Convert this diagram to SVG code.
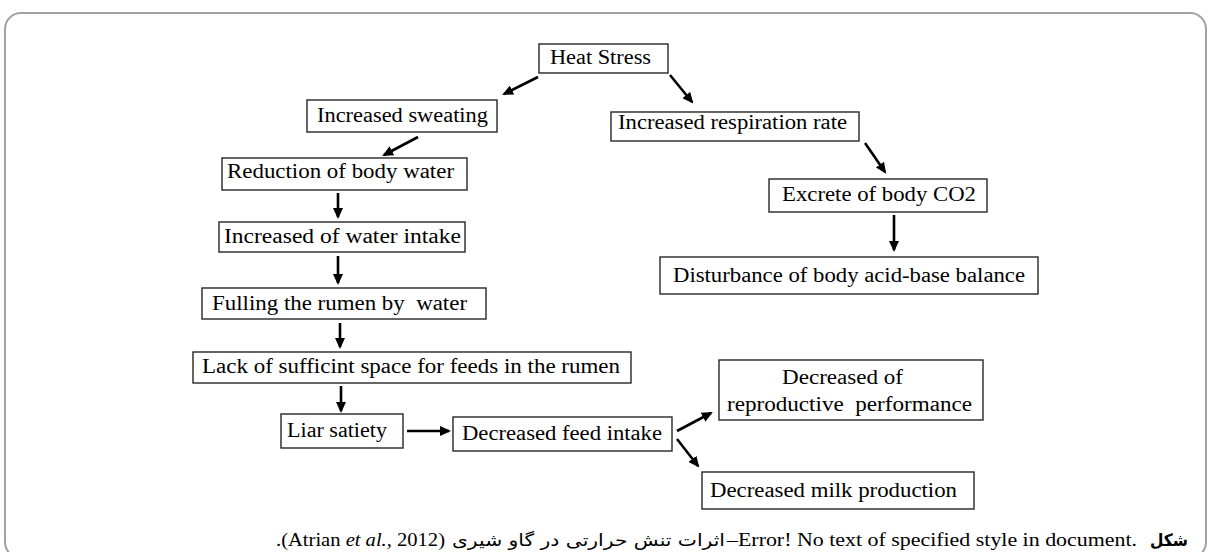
<svg xmlns="http://www.w3.org/2000/svg" width="1210" height="552" viewBox="0 0 1210 552">
  <style>
    .box { fill: #ffffff; stroke: #262626; stroke-width: 1.4; }
    .t { font-family: "Liberation Serif", "Times New Roman", serif; font-size: 20px; fill: #000; white-space: pre; }
    .cap { font-family: "Liberation Serif", "Times New Roman", serif; font-size: 19px; fill: #000; white-space: pre; direction: ltr; unicode-bidi: bidi-override; }
    .fa { font-family: "DejaVu Sans", "Noto Sans", sans-serif; font-size: 17px; fill: #000; }
    .arr { stroke: #000; stroke-width: 2.6; fill: none; marker-end: url(#ah); }
  </style>
  <defs>
    <marker id="ah" markerUnits="userSpaceOnUse" markerWidth="11" markerHeight="10" refX="9" refY="5" orient="auto">
      <path d="M0,0 L11,5 L0,10 z" fill="#000"/>
    </marker>
  </defs>
  <rect x="0" y="0" width="1210" height="552" fill="#ffffff"/>
  <rect x="5" y="13" width="1201" height="545" rx="16" ry="16" fill="none" stroke="#a3a3a3" stroke-width="2"/>

  <g id="connectors">
    <line class="arr" x1="538" y1="77" x2="504" y2="94"/>
    <line class="arr" x1="418" y1="137" x2="384" y2="155"/>
    <line class="arr" x1="670" y1="75" x2="692" y2="102"/>
    <line class="arr" x1="865" y1="143" x2="885" y2="172"/>
    <line class="arr" x1="894" y1="215" x2="894" y2="250"/>
    <line class="arr" x1="338" y1="193" x2="338" y2="217"/>
    <line class="arr" x1="338" y1="256" x2="338" y2="283"/>
    <line class="arr" x1="340" y1="323" x2="340" y2="347"/>
    <line class="arr" x1="341" y1="386" x2="341" y2="411"/>
    <line class="arr" x1="407" y1="431" x2="449" y2="431"/>
    <line class="arr" x1="677" y1="431" x2="711" y2="413"/>
    <line class="arr" x1="677" y1="439" x2="698" y2="466"/>
  </g>

  <g id="heat-stress">
    <rect class="box" x="539" y="44" width="129" height="29"/>
    <text class="t" x="550" y="64" textLength="101" lengthAdjust="spacingAndGlyphs">Heat Stress</text>
  </g>
  <g id="increased-sweating">
    <rect class="box" x="307" y="100" width="190" height="32"/>
    <text class="t" x="317" y="122" textLength="171" lengthAdjust="spacingAndGlyphs">Increased sweating</text>
  </g>
  <g id="increased-respiration">
    <rect class="box" x="611" y="112" width="248" height="29"/>
    <text class="t" x="618" y="129" textLength="229" lengthAdjust="spacingAndGlyphs">Increased respiration rate</text>
  </g>
  <g id="reduction-body-water">
    <rect class="box" x="222" y="158" width="245" height="32"/>
    <text class="t" x="227" y="178" textLength="227" lengthAdjust="spacingAndGlyphs">Reduction of body water</text>
  </g>
  <g id="excrete-co2">
    <rect class="box" x="769" y="179" width="218" height="33"/>
    <text class="t" x="782" y="201" textLength="194" lengthAdjust="spacingAndGlyphs">Excrete of body CO2</text>
  </g>
  <g id="water-intake">
    <rect class="box" x="219" y="222" width="246" height="30"/>
    <text class="t" x="224" y="243" textLength="237" lengthAdjust="spacingAndGlyphs">Increased of water intake</text>
  </g>
  <g id="disturbance">
    <rect class="box" x="660" y="257" width="378" height="37"/>
    <text class="t" x="673" y="282" textLength="352" lengthAdjust="spacingAndGlyphs">Disturbance of body acid-base balance</text>
  </g>
  <g id="fulling-rumen">
    <rect class="box" x="202" y="288" width="284" height="31"/>
    <text class="t" x="212" y="310" textLength="255" lengthAdjust="spacingAndGlyphs">Fulling the rumen by  water</text>
  </g>
  <g id="lack-space">
    <rect class="box" x="193" y="352" width="438" height="31"/>
    <text class="t" x="202" y="373" textLength="418" lengthAdjust="spacingAndGlyphs">Lack of sufficint space for feeds in the rumen</text>
  </g>
  <g id="liar-satiety">
    <rect class="box" x="281" y="414" width="122" height="34"/>
    <text class="t" x="287" y="437" textLength="100" lengthAdjust="spacingAndGlyphs">Liar satiety</text>
  </g>
  <g id="decreased-feed-intake">
    <rect class="box" x="453" y="417" width="219" height="34"/>
    <text class="t" x="462" y="440" textLength="200" lengthAdjust="spacingAndGlyphs">Decreased feed intake</text>
  </g>
  <g id="decreased-reproductive">
    <rect class="box" x="719" y="360" width="264" height="60"/>
    <text class="t" x="782" y="384" textLength="121" lengthAdjust="spacingAndGlyphs">Decreased of</text>
    <text class="t" x="727" y="411" textLength="245" lengthAdjust="spacingAndGlyphs">reproductive  performance</text>
  </g>
  <g id="decreased-milk">
    <rect class="box" x="702" y="472" width="272" height="37"/>
    <text class="t" x="710" y="497" textLength="247" lengthAdjust="spacingAndGlyphs">Decreased milk production</text>
  </g>

  <g id="caption">
    <text class="cap" x="276" y="546" textLength="169" lengthAdjust="spacingAndGlyphs">.(Atrian <tspan font-style="italic">et al.</tspan>, 2012)</text>
    <text class="fa" x="452" y="546" textLength="273" lengthAdjust="spacingAndGlyphs">اثرات تنش حرارتی در گاو شیری</text>
    <text class="cap" x="727" y="546" textLength="410" lengthAdjust="spacingAndGlyphs">–Error! No text of specified style in document.</text>
    <text class="fa" x="1150" y="546" font-weight="bold" textLength="38" lengthAdjust="spacingAndGlyphs">شکل</text>
  </g>
</svg>
